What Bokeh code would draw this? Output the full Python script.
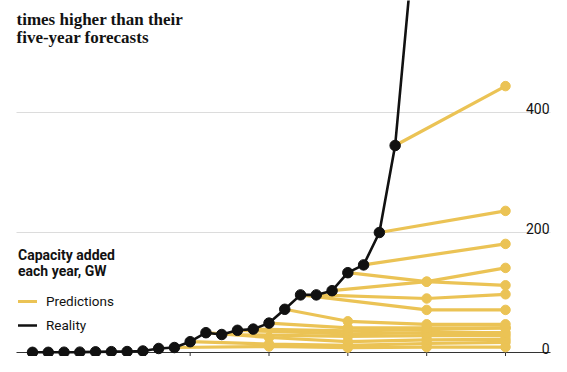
from bokeh.plotting import figure
from bokeh.models import Label, Legend, LegendItem
from bokeh.embed import file_html
from bokeh.resources import INLINE
from bokeh.core.properties import value

# ---------------- data ----------------
years = list(range(2000, 2025))
reality = [0.3, 0.3, 0.5, 0.6, 1.1, 1.4, 1.6, 2.5, 6.7, 8.3, 18, 33, 30, 37, 39,
           49, 72, 96, 96, 103, 133, 146, 200, 345, 630]

forecast_from = [2009, 2010, 2011, 2012, 2013, 2014, 2015, 2016,
                 2017, 2018, 2019, 2020, 2021, 2022, 2023]
forecast_years = [
    [2015, 2020, 2025, 2030],
    [2015, 2020, 2025, 2030],
    [2015, 2020, 2025, 2030],
    [2020, 2025, 2030],
    [2020, 2025, 2030],
    [2020, 2025, 2030],
    [2020, 2025, 2030],
    [2020, 2025, 2030],
    [2025, 2030],
    [2025, 2030],
    [2025, 2030],
    [2025, 2030],
    [2030],
    [2030],
    [2030],
]
forecast_values = [
    [10, 8, 9, 9],
    [14, 12, 15, 17],
    [25, 18, 21, 22],
    [27, 28, 28],
    [31, 33, 33],
    [36, 38, 41],
    [41, 41, 41],
    [52, 47, 47],
    [71, 71],
    [90, 97],
    [118, 141],
    [118, 112],
    [181],
    [236],
    [444],
]

x_ticks = [2000, 2005, 2010, 2015, 2020, 2025, 2030]
y_ticks = [0, 200, 400]
y_tick_labels = ["0", "200", "400"]
title_lines = ["times higher than their", "five-year forecasts"]
legend_title = "Capacity added\neach year, GW"
legend_labels = ["Predictions", "Reality"]

# ---------------- styles / geometry ----------------
YELLOW = "#EBC355"
BLACK = "#111111"
TEXT = "#121212"
W, H = 551, 356
PX_PER_YEAR = 15.767
X0_PX = 32
PX_PER_GW = 0.6
Y0_PX = 4
x_start = 2000 - X0_PX / PX_PER_YEAR
x_end = x_start + W / PX_PER_YEAR
y_start = -Y0_PX / PX_PER_GW
y_end = y_start + H / PX_PER_GW
grid_x0 = x_start + 16 / PX_PER_YEAR
grid_x1 = x_start + 550 / PX_PER_YEAR
label_x = x_start + 549 / PX_PER_YEAR
tick_len = 10 / PX_PER_GW

p = figure(width=W, height=H, x_range=(x_start, x_end), y_range=(y_start, y_end),
           x_axis_type=None, y_axis_type=None, toolbar_location=None,
           output_backend="svg", min_border=0, title=None)
p.outline_line_color = None
p.background_fill_color = "white"
p.border_fill_color = "white"

# gridlines
p.segment(x0=[grid_x0] * (len(y_ticks) - 1), x1=[grid_x1] * (len(y_ticks) - 1),
          y0=y_ticks[1:], y1=y_ticks[1:], line_color="#dcdcdc", line_width=1)
# baseline axis
p.segment(x0=[grid_x0], x1=[grid_x1], y0=[y_ticks[0]], y1=[y_ticks[0]],
          line_color="#333333", line_width=1)
# ticks
p.segment(x0=x_ticks, x1=x_ticks, y0=[0] * len(x_ticks), y1=[-tick_len] * len(x_ticks),
          line_color="#333333", line_width=1)

# y labels
p.text(x=[label_x] * len(y_ticks), y=y_ticks, text=y_tick_labels,
       text_align="right", text_baseline="alphabetic", y_offset=-4,
       text_font=value("Roboto"), text_font_size="14px", text_color=TEXT)

# forecasts
xs, ys, px, py = [], [], [], []
for start, fy, fv in zip(forecast_from, forecast_years, forecast_values):
    xs.append([start] + fy)
    ys.append([reality[years.index(start)]] + fv)
    px.extend(fy)
    py.extend(fv)
pred = p.multi_line(xs, ys, line_color=YELLOW, line_width=3.2, line_cap="round")
p.scatter(px, py, size=9.5, fill_color=YELLOW, line_color=YELLOW)

# reality
real = p.line(years, reality, line_color=BLACK, line_width=2.6, line_cap="round")
p.scatter(years, reality, size=10.5, fill_color=BLACK, line_color=BLACK)

legend = Legend(items=[LegendItem(label=legend_labels[0], renderers=[pred]),
                       LegendItem(label=legend_labels[1], renderers=[real])],
                location=(18, 21), title=legend_title,
                title_text_font="Roboto", title_text_font_style="bold",
                title_text_font_size="14px", title_text_color=TEXT,
                title_standoff=12,
                label_text_font="Roboto", label_text_font_size="13.5px",
                label_text_color=TEXT, label_standoff=9,
                glyph_width=19, glyph_height=20, label_height=20, spacing=4,
                padding=0, margin=0, border_line_color=None,
                background_fill_alpha=0)
p.add_layout(legend, "center")

# title text
for i, t in enumerate(title_lines):
    p.add_layout(Label(x=16, y=H - 19.3 - 17.5 * i, x_units="screen", y_units="screen",
                       text=t, text_font="Liberation Serif", text_font_style="bold",
                       text_font_size="17px", text_color=TEXT,
                       text_baseline="alphabetic"))

open("out.html", "w").write(file_html(p, INLINE))
